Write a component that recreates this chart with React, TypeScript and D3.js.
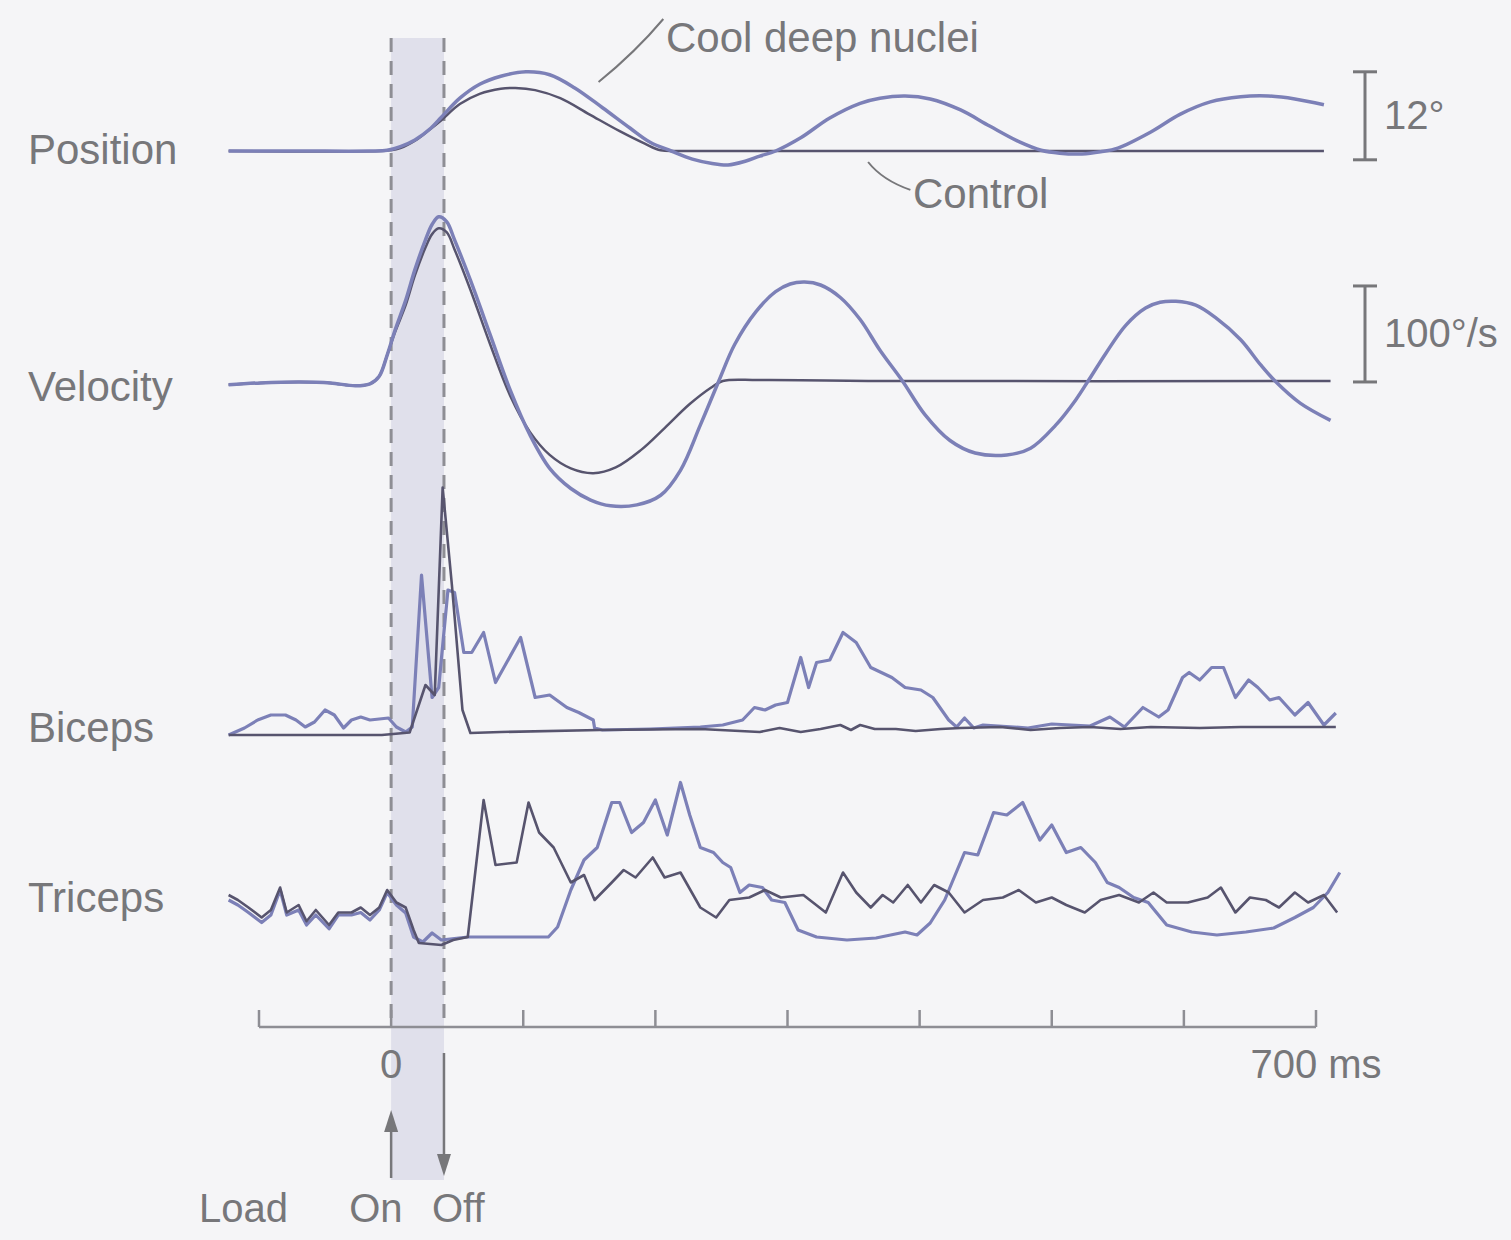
import React from "react";
import * as d3 from "d3";

type Pt = [number, number];

// time in ms, values in panel units
const rowLabels = ["Position", "Velocity", "Biceps", "Triceps"];
const timeTicks = [-100, 0, 100, 200, 300, 400, 500, 600, 700];
const loadOn = 0;
const loadOff = 40;

// position (deg)
const posCool: Pt[] = [
  [-123, 0], [-69, 0], [-16, 0], [-3, 0.1], [7, 0.6], [18, 1.5], [30, 3.1], [38, 4.6],
  [52, 7.2], [67, 9.1], [83, 10.2], [102, 10.8], [120, 10.4], [139, 8.6], [160, 5.9],
  [181, 3.1], [196, 1.2], [212, 0], [228, -1.1], [243, -1.7], [255, -1.9], [268, -1.4],
  [279, -0.7], [291, 0], [310, 1.8], [332, 4.5], [355, 6.5], [370, 7.2], [389, 7.5],
  [408, 7.1], [431, 5.6], [453, 3.4], [476, 1.2], [492, 0.1], [506, -0.3], [523, -0.4],
  [537, -0.1], [550, 0.4], [575, 2.6], [597, 5.0], [620, 6.7], [643, 7.4], [664, 7.5],
  [684, 7.1], [706, 6.3],
];
const posControl: Pt[] = [
  [-123, 0], [-8, 0], [-1, 0.1], [7, 0.4], [18, 1.4], [29, 2.9], [38, 4.2], [52, 6.4],
  [67, 7.8], [83, 8.5], [94, 8.6], [109, 8.3], [128, 7.2], [150, 5.0], [173, 2.7],
  [192, 1.0], [204, 0.1], [220, 0], [400, 0], [706, 0],
];

// velocity (deg/s)
const velCool: Pt[] = [
  [-123, -4], [-99, -2], [-69, -1], [-46, -2], [-27, -5], [-16, -3], [-9, 5], [-3, 27],
  [3, 53], [11, 84], [18, 116], [26, 147], [31, 163], [36, 171], [42, 166], [48, 147],
  [60, 105], [75, 48], [90, -9], [105, -56], [120, -91], [136, -112], [151, -124],
  [166, -130], [186, -129], [204, -119], [219, -93], [234, -46], [248, 0], [260, 38],
  [276, 72], [291, 93], [302, 101], [313, 103], [325, 100], [340, 87], [355, 64],
  [370, 32], [387, 0], [404, -35], [423, -62], [442, -75], [466, -77], [484, -70],
  [503, -46], [518, -20], [528, 1], [541, 29], [556, 58], [571, 76], [582, 82],
  [594, 83], [609, 79], [624, 66], [643, 43], [658, 17], [669, 0], [688, -23], [711, -41],
];
const velControl: Pt[] = [
  [-123, -4], [-99, -2], [-69, -1], [-46, -2], [-27, -5], [-16, -3], [-9, 5], [-3, 27],
  [3, 51], [11, 79], [18, 110], [26, 139], [31, 153], [36, 159], [42, 155], [48, 137],
  [60, 95], [75, 38], [90, -15], [105, -53], [120, -77], [136, -91], [153, -96],
  [170, -90], [189, -72], [207, -49], [226, -24], [242, -7], [251, 0], [279, 1],
  [385, 0], [711, 0],
];

// biceps EMG (arbitrary units)
const bicCool: Pt[] = [
  [-123, 0], [-111, 2.8], [-101, 6], [-91, 8], [-80, 8], [-72, 6], [-65, 3.2], [-58, 5.2],
  [-50, 10], [-43, 8], [-36, 2.8], [-30, 6], [-23, 7.2], [-16, 6], [-2, 6.8], [4, 3.2],
  [11, 1.2], [16, 3.2], [23, 64], [31, 15], [36, 19], [43, 58], [48, 57], [55, 33],
  [61, 33], [70, 41], [79, 21], [98, 39], [109, 15], [120, 16], [133, 11], [142, 9],
  [153, 6], [154, 2.8], [160, 2], [196, 2.4], [234, 3.2], [251, 4], [266, 6], [275, 11],
  [283, 10], [291, 12], [300, 13], [310, 31], [316, 19], [322, 29], [332, 30], [342, 41],
  [352, 37], [363, 27], [371, 25], [379, 23], [389, 19], [401, 18], [410, 15], [422, 6],
  [428, 3.2], [434, 6.8], [441, 2.8], [448, 4], [482, 2.8], [500, 4.4], [529, 3.6],
  [544, 7.2], [555, 3.2], [569, 11], [581, 7.2], [588, 10], [599, 23], [604, 25],
  [612, 22], [621, 27], [630, 27], [639, 15], [649, 22], [656, 19], [665, 14], [672, 15],
  [684, 8], [694, 13], [706, 4], [715, 8.8],
];
const bicControl: Pt[] = [
  [-123, 0], [-7, 0], [14, 1], [26, 20], [33, 16], [39, 99], [46, 60], [54, 10], [60, 0.8],
  [83, 1.2], [158, 2], [234, 2.4], [279, 1.2], [294, 2.8], [310, 1.2], [325, 2.4],
  [340, 4], [348, 2], [355, 4], [366, 2.4], [382, 2.4], [397, 1.6], [416, 2.4],
  [431, 2.8], [461, 3.2], [484, 2], [506, 2.8], [529, 3.2], [552, 2.4], [575, 3.2],
  [612, 2.8], [643, 3.2], [673, 3.2], [715, 3.2],
];

// triceps EMG (arbitrary units)
const triCool: Pt[] = [
  [-123, 18], [-116, 16], [-108, 13], [-98, 9], [-91, 12], [-84, 22], [-79, 12], [-70, 14],
  [-64, 8], [-57, 12], [-47, 6.5], [-40, 12], [-30, 12], [-23, 13], [-16, 10], [-9, 14],
  [-3, 21], [4, 16], [11, 12.8], [17, 3.2], [24, 1.2], [31, 4.8], [38, 2], [58, 3.2],
  [92, 3.2], [119, 3.2], [126, 7.2], [136, 22], [146, 34], [156, 39], [167, 57], [173, 57],
  [182, 45], [191, 49], [200, 58], [209, 44], [219, 65], [226, 52], [234, 39], [244, 37],
  [251, 33], [257, 31], [264, 21], [271, 24], [281, 23], [288, 18], [298, 17], [308, 6],
  [322, 3.2], [345, 2], [367, 2.8], [389, 5.2], [398, 4], [408, 8.8], [419, 18], [434, 37],
  [444, 36], [456, 53], [466, 52], [478, 57], [491, 42], [500, 48], [511, 37], [522, 39],
  [533, 33], [542, 25], [551, 23], [562, 19], [573, 17], [587, 8], [606, 5.2], [625, 4],
  [647, 5.2], [668, 6.8], [684, 11], [698, 15], [709, 21], [718, 29],
];
const triControl: Pt[] = [
  [-123, 20], [-116, 18], [-108, 15], [-98, 11], [-91, 14], [-84, 23], [-79, 13], [-70, 16],
  [-64, 9.5], [-57, 14], [-47, 8], [-40, 13], [-30, 13], [-23, 15], [-16, 12], [-9, 15],
  [-3, 22], [4, 17], [11, 15], [17, 6], [21, 0.8], [38, 0], [47, 2], [58, 3.2], [70, 58],
  [79, 32], [95, 33], [104, 57], [112, 45], [123, 39], [136, 25], [146, 28], [154, 18],
  [167, 25], [176, 30], [185, 27], [198, 35], [207, 27], [219, 29], [234, 15], [246, 11],
  [256, 18], [271, 19], [283, 22], [295, 19], [312, 20], [329, 13], [342, 29], [352, 21],
  [363, 15], [372, 20], [380, 17], [391, 24], [401, 17], [411, 24], [422, 21], [434, 13],
  [448, 18], [463, 19], [475, 22], [488, 17], [500, 19], [511, 16], [525, 13], [537, 18],
  [551, 20], [566, 17], [577, 21], [587, 17], [603, 17], [618, 19], [628, 23], [639, 13],
  [650, 19], [662, 18], [672, 15], [684, 21], [694, 17], [706, 20], [716, 13],
];

const W = 1511;
const H = 1240;

const x = d3.scaleLinear().domain([-100, 700]).range([259, 1316]);
const yPos = d3.scaleLinear().domain([0, 12]).range([151, 63]);
const yVel = d3.scaleLinear().domain([0, 100]).range([381, 285]);
const yBic = d3.scaleLinear().domain([0, 100]).range([735, 485]);
const yTri = d3.scaleLinear().domain([0, 100]).range([945, 695]);

const smooth = (y: d3.ScaleLinear<number, number>) =>
  d3.line<Pt>().x((d) => x(d[0])).y((d) => y(d[1])).curve(d3.curveCatmullRom.alpha(0.5));
const jagged = (y: d3.ScaleLinear<number, number>) =>
  d3.line<Pt>().x((d) => x(d[0])).y((d) => y(d[1]));

const COOL = "#7c80b7";
const CTRL = "#57546e";
const TEXT = "#77777a";
const GRID = "#8e8e94";
const FONT = "'Liberation Sans', Arial, sans-serif";

const axisY = 1027;

const App = () => {
  const rowY = [yPos(0) + 13, yVel(0) + 20, yBic(0) + 7, yTri(0) - 33];

  // arrow heads: tip, then the two base corners
  const head = (cx: number, tip: number, dir: number) =>
    `M${cx},${tip} L${cx - 7},${tip - dir * 22} L${cx + 7},${tip - dir * 22} Z`;

  return (
    <svg
      width={W}
      height={H}
      style={{ position: "absolute", left: 0, top: 0 }}
      fontFamily={FONT}
    >
      <rect width={W} height={H} fill="#f5f5f7" />

      {/* load pulse band */}
      <rect
        x={x(loadOn)}
        y={38}
        width={x(loadOff) - x(loadOn)}
        height={1180 - 38}
        fill="#e0e0eb"
      />
      {[loadOn, loadOff].map((t) => (
        <line
          key={t}
          x1={x(t)}
          x2={x(t)}
          y1={38}
          y2={axisY}
          stroke={GRID}
          strokeWidth={3}
          strokeDasharray="14 9"
        />
      ))}

      {/* row labels */}
      {rowLabels.map((s, i) => (
        <text key={s} x={28} y={rowY[i]} fontSize={42} fill={TEXT}>
          {s}
        </text>
      ))}

      {/* traces */}
      <path d={smooth(yPos)(posControl)!} fill="none" stroke={CTRL} strokeWidth={2.5} />
      <path d={smooth(yPos)(posCool)!} fill="none" stroke={COOL} strokeWidth={3.5} />
      <path d={smooth(yVel)(velControl)!} fill="none" stroke={CTRL} strokeWidth={2.5} />
      <path d={smooth(yVel)(velCool)!} fill="none" stroke={COOL} strokeWidth={3.5} />
      <path d={jagged(yBic)(bicCool)!} fill="none" stroke={COOL} strokeWidth={3.2} strokeLinejoin="round" />
      <path d={jagged(yBic)(bicControl)!} fill="none" stroke={CTRL} strokeWidth={2.6} strokeLinejoin="round" />
      <path d={jagged(yTri)(triCool)!} fill="none" stroke={COOL} strokeWidth={3.2} strokeLinejoin="round" />
      <path d={jagged(yTri)(triControl)!} fill="none" stroke={CTRL} strokeWidth={2.6} strokeLinejoin="round" />

      {/* annotations */}
      <path
        d={`M${x(157)},${yPos(9.4)} Q${x(185)},${yPos(13.5)} ${x(206)},${yPos(18)}`}
        fill="none"
        stroke={TEXT}
        strokeWidth={2}
      />
      <text x={x(208)} y={52} fontSize={42} fill={TEXT}>
        Cool deep nuclei
      </text>
      <path
        d={`M${x(361)},${yPos(-1.5)} Q${x(372)},${yPos(-4)} ${x(393)},${yPos(-5.3)}`}
        fill="none"
        stroke={TEXT}
        strokeWidth={2}
      />
      <text x={x(395)} y={208} fontSize={42} fill={TEXT}>
        Control
      </text>

      {/* scale bars */}
      {[
        { y: yPos, lo: -1.2, hi: 10.8, label: "12°" },
        { y: yVel, lo: -1, hi: 99, label: "100°/s" },
      ].map((b) => {
        const bx = 1365;
        const y1 = b.y(b.lo);
        const y2 = b.y(b.hi);
        return (
          <g key={b.label} stroke={TEXT} strokeWidth={3}>
            <line x1={bx} x2={bx} y1={y1} y2={y2} />
            <line x1={bx - 12} x2={bx + 12} y1={y1} y2={y1} />
            <line x1={bx - 12} x2={bx + 12} y1={y2} y2={y2} />
            <text
              x={bx + 19}
              y={(y1 + y2) / 2 + 13}
              fontSize={40}
              fill={TEXT}
              stroke="none"
            >
              {b.label}
            </text>
          </g>
        );
      })}

      {/* time axis */}
      <line x1={x(-100)} x2={x(700)} y1={axisY} y2={axisY} stroke={GRID} strokeWidth={2.5} />
      {timeTicks.map((t) => (
        <line key={t} x1={x(t)} x2={x(t)} y1={axisY} y2={axisY - 17} stroke={GRID} strokeWidth={2.5} />
      ))}
      <text x={x(0)} y={1078} fontSize={40} fill={TEXT} textAnchor="middle">
        0
      </text>
      <text x={x(700)} y={1078} fontSize={40} fill={TEXT} textAnchor="middle">
        700 ms
      </text>

      {/* load on / off arrows */}
      <line x1={x(loadOn)} x2={x(loadOn)} y1={1178} y2={1125} stroke={TEXT} strokeWidth={2.5} />
      <path d={head(x(loadOn), 1110, -1)} fill={TEXT} />
      <line x1={x(loadOff)} x2={x(loadOff)} y1={1053} y2={1158} stroke={TEXT} strokeWidth={2.5} />
      <path d={head(x(loadOff), 1176, 1)} fill={TEXT} />
      <text x={199} y={1222} fontSize={40} fill={TEXT}>
        Load
      </text>
      <text x={x(loadOn) - 42} y={1222} fontSize={40} fill={TEXT}>
        On
      </text>
      <text x={x(loadOff) - 12} y={1222} fontSize={40} fill={TEXT}>
        Off
      </text>
    </svg>
  );
};

export default App;
